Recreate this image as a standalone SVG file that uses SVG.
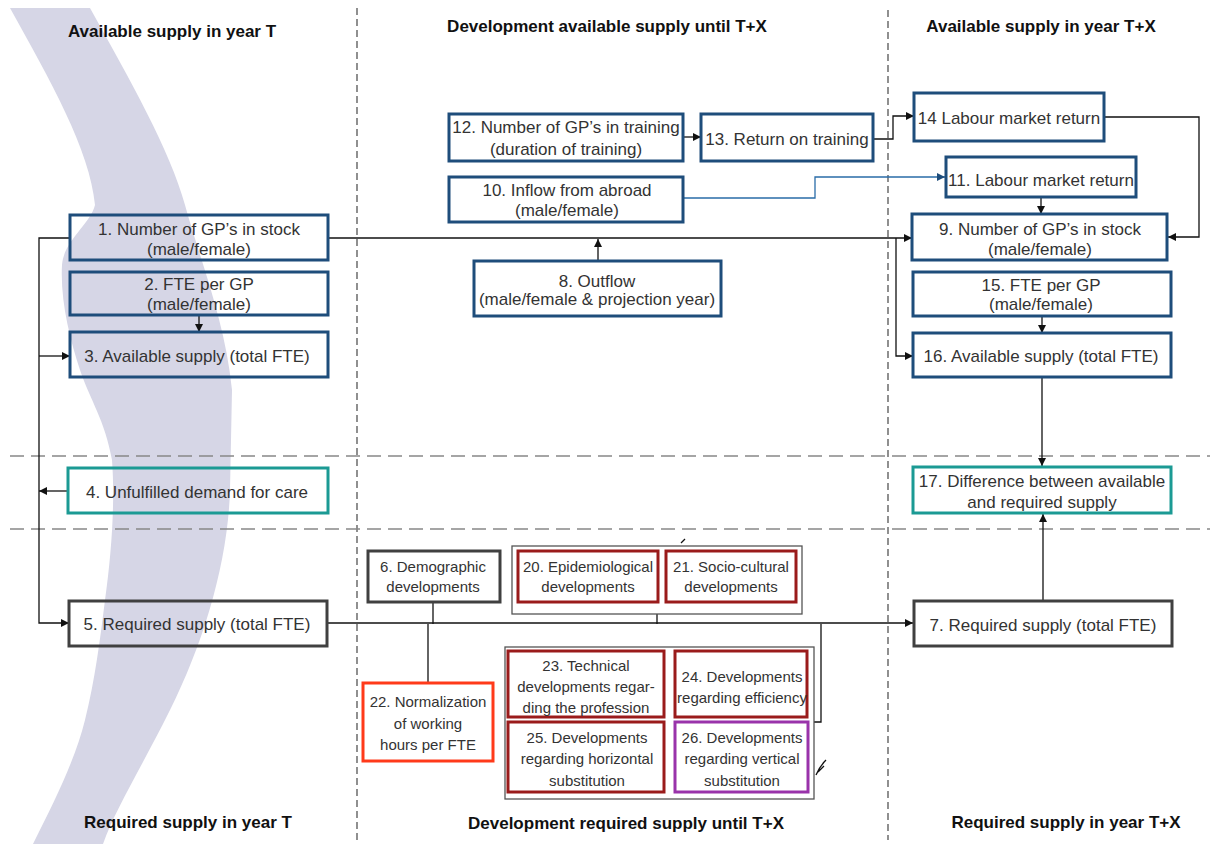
<svg xmlns="http://www.w3.org/2000/svg" width="1210" height="844" viewBox="0 0 1210 844">
<style>
  text { font-family: "Liberation Sans", Arial, sans-serif; fill: #333; text-anchor: middle; }
  .t17 { font-size: 17px; }
  .t15 { font-size: 15px; }
  .hd { font-size: 17px; font-weight: bold; fill: #111; }
  .box { fill: none; stroke-width: 3; }
  .blue { stroke: #1e4d7b; }
  .teal { stroke: #1b9a94; }
  .grey { stroke: #404040; }
  .dred { stroke: #9a1b1b; }
  .orange { stroke: #ff3a1a; }
  .purple { stroke: #9933aa; }
  .grp { fill: none; stroke: #555; stroke-width: 1.3; }
  .con { fill: none; stroke: #111; stroke-width: 1.3; }
  .conb { fill: none; stroke: #2a6ca8; stroke-width: 1.3; }
  .vdash { stroke: #555; stroke-width: 1.3; stroke-dasharray: 7 4; }
  .hdash { stroke: #888; stroke-width: 1.5; stroke-dasharray: 14 7; }
</style>
<defs>
  <marker id="arr" viewBox="0 0 10 10" refX="10" refY="5" markerWidth="9" markerHeight="8" markerUnits="userSpaceOnUse" orient="auto">
    <path d="M0,0 L10,5 L0,10 z" fill="#111"/>
  </marker>
  <marker id="arrb" viewBox="0 0 10 10" refX="10" refY="5" markerWidth="9" markerHeight="8" markerUnits="userSpaceOnUse" orient="auto">
    <path d="M0,0 L10,5 L0,10 z" fill="#1e4d7b"/>
  </marker>
</defs>
<rect width="1210" height="844" fill="#fff"/>
<path id="band" fill="#d6d6e6" d="M10,8 L90,8 C130,80 170,150 185,205 C200,260 225,320 232,390 L230,490 C228,560 205,640 170,710 C140,770 115,810 103,844 L33,844 C55,800 75,760 85,720 C95,680 100,640 105,600 C112,550 115,500 112,460 C105,420 90,400 80,370 C70,340 60,300 62,265 C64,240 90,225 95,205 C90,150 50,80 10,8 Z"/>
<g id="gridlines">
  <line class="vdash" x1="357" y1="8" x2="357" y2="844"/>
  <line class="vdash" x1="888" y1="10" x2="888" y2="840"/>
  <line class="hdash" x1="10" y1="456" x2="1210" y2="456"/>
  <line class="hdash" x1="10" y1="529" x2="1210" y2="529"/>
</g>
<g id="headings">
  <text class="hd" x="172" y="37">Available supply in year T</text>
  <text class="hd" x="607" y="32">Development available supply until T+X</text>
  <text class="hd" x="1041" y="32">Available supply in year T+X</text>
  <text class="hd" x="188" y="828">Required supply in year T</text>
  <text class="hd" x="626" y="829">Development required supply until T+X</text>
  <text class="hd" x="1066" y="828">Required supply in year T+X</text>
</g>
<g id="connectors">
  <path class="con" d="M328,238 H912" marker-end="url(#arr)"/>
  <path class="con" d="M896,238 V356 H913" marker-end="url(#arr)"/>
  <path class="con" d="M70,238 H39 V623 H69" marker-end="url(#arr)"/>
  <path class="con" d="M39,356 H70" marker-end="url(#arr)"/>
  <path class="con" d="M68,491 H39" marker-end="url(#arr)"/>
  <path class="con" d="M199,316 V332" marker-end="url(#arr)"/>
  <path class="con" d="M683,137 H701" marker-end="url(#arr)"/>
  <path class="con" d="M873,139 H893 V116 H914" marker-end="url(#arr)"/>
  <path class="conb" d="M683,198 H815 V177 H945" marker-end="url(#arrb)"/>
  <path class="con" d="M598,261 V239" marker-end="url(#arr)"/>
  <path class="con" d="M1104,117 H1199 V237 H1168" marker-end="url(#arr)"/>
  <path class="con" d="M1041,197 V214" marker-end="url(#arr)"/>
  <path class="con" d="M1042,316 V333" marker-end="url(#arr)"/>
  <path class="con" d="M1042,377 V466" marker-end="url(#arr)"/>
  <path class="con" d="M1043,601 V514" marker-end="url(#arr)"/>
  <path class="con" d="M327,623 H913" marker-end="url(#arr)"/>
  <path class="con" d="M433,602 V624"/>
  <path class="con" d="M428,624 V683"/>
  <path class="con" d="M657,614 V624"/>
  <path class="con" d="M821,624 V722 H814"/>
  <path class="con" d="M681,543 L685,539" stroke-width="2"/>
  <path class="con" d="M816,775 C819,768 822,764 826,760 M818,772 L824,766"/>
</g>
<g id="n1"><rect class="box blue" x="70" y="215" width="258" height="45"/><text class="t17" x="199" y="235">1. Number of GP’s in stock</text><text class="t17" x="199" y="255">(male/female)</text></g>
<g id="n2"><rect class="box blue" x="70" y="272" width="258" height="43"/><text class="t17" x="199" y="290">2. FTE per GP</text><text class="t17" x="199" y="310">(male/female)</text></g>
<g id="n3"><rect class="box blue" x="70" y="332" width="258" height="45"/><text class="t17" x="197" y="362">3. Available supply (total FTE)</text></g>
<g id="n4"><rect class="box teal" x="68" y="468" width="260" height="45"/><text class="t17" x="197" y="498">4. Unfulfilled demand for care</text></g>
<g id="n5"><rect class="box grey" x="69" y="601" width="258" height="45"/><text class="t17" x="197" y="630">5. Required supply (total FTE)</text></g>
<g id="n12"><rect class="box blue" x="449" y="114" width="234" height="47"/><text class="t17" x="566" y="133">12. Number of GP’s in training</text><text class="t17" x="566" y="155">(duration of training)</text></g>
<g id="n13"><rect class="box blue" x="701" y="114" width="172" height="47"/><text class="t17" x="787" y="145">13. Return on training</text></g>
<g id="n10"><rect class="box blue" x="449" y="177" width="234" height="45"/><text class="t17" x="567" y="196">10. Inflow from abroad</text><text class="t17" x="567" y="216">(male/female)</text></g>
<g id="n8"><rect class="box blue" x="474" y="261" width="247" height="55"/><text class="t17" x="597" y="287">8. Outflow</text><text class="t17" x="597" y="305">(male/female &amp; projection year)</text></g>
<g id="n14"><rect class="box blue" x="914" y="93" width="190" height="48"/><text class="t17" x="1009" y="124">14 Labour market return</text></g>
<g id="n11"><rect class="box blue" x="946" y="157" width="190" height="40"/><text class="t17" x="1041" y="186">11. Labour market return</text></g>
<g id="n9"><rect class="box blue" x="912" y="214" width="255" height="46"/><text class="t17" x="1040" y="235">9. Number of GP’s in stock</text><text class="t17" x="1040" y="255">(male/female)</text></g>
<g id="n15"><rect class="box blue" x="913" y="272" width="258" height="44"/><text class="t17" x="1041" y="291">15. FTE per GP</text><text class="t17" x="1041" y="310">(male/female)</text></g>
<g id="n16"><rect class="box blue" x="913" y="333" width="258" height="44"/><text class="t17" x="1041" y="362">16. Available supply (total FTE)</text></g>
<g id="n17"><rect class="box teal" x="913" y="467" width="258" height="46"/><text class="t17" x="1042" y="487">17. Difference between available</text><text class="t17" x="1042" y="508">and required supply</text></g>
<g id="n7"><rect class="box grey" x="914" y="601" width="258" height="45"/><text class="t17" x="1043" y="631">7. Required supply (total FTE)</text></g>
<g id="n6"><rect class="box grey" x="368" y="551" width="132" height="51"/><text class="t15" x="433" y="572">6. Demographic</text><text class="t15" x="433" y="592">developments</text></g>
<g id="g2021"><rect class="grp" x="512" y="546" width="290" height="68"/></g>
<g id="n20"><rect class="box dred" x="518" y="551" width="140" height="51"/><text class="t15" x="588" y="572">20. Epidemiological</text><text class="t15" x="588" y="592">developments</text></g>
<g id="n21"><rect class="box dred" x="666" y="551" width="130" height="51"/><text class="t15" x="731" y="572">21. Socio-cultural</text><text class="t15" x="731" y="592">developments</text></g>
<g id="n22"><rect class="box orange" x="363" y="683" width="130" height="78"/><text class="t15" x="428" y="707">22. Normalization</text><text class="t15" x="428" y="729">of working</text><text class="t15" x="428" y="750">hours per FTE</text></g>
<g id="g2326"><rect class="grp" x="505" y="647" width="309" height="152"/></g>
<g id="n23"><rect class="box dred" x="508" y="651" width="156" height="66"/><text class="t15" x="586" y="671">23. Technical</text><text class="t15" x="586" y="692">developments regar-</text><text class="t15" x="586" y="713">ding the profession</text></g>
<g id="n24"><rect class="box dred" x="675" y="651" width="132" height="66"/><text class="t15" x="742" y="682">24. Developments</text><text class="t15" x="742" y="703">regarding efficiency</text></g>
<g id="n25"><rect class="box dred" x="508" y="722" width="156" height="70"/><text class="t15" x="587" y="743">25. Developments</text><text class="t15" x="587" y="764">regarding horizontal</text><text class="t15" x="587" y="786">substitution</text></g>
<g id="n26"><rect class="box purple" x="675" y="722" width="133" height="70"/><text class="t15" x="742" y="743">26. Developments</text><text class="t15" x="742" y="764">regarding vertical</text><text class="t15" x="742" y="786">substitution</text></g>
</svg>
